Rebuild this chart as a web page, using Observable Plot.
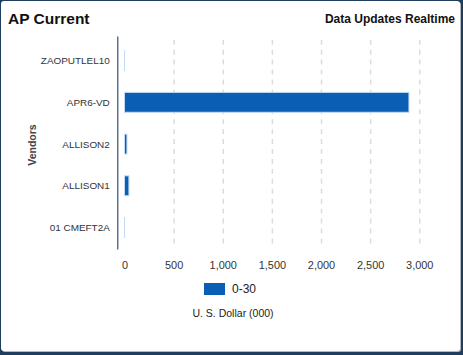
<!DOCTYPE html>
<html>
<head>
<meta charset="utf-8">
<script src="https://cdn.jsdelivr.net/npm/d3@7"></script>
<script src="https://cdn.jsdelivr.net/npm/@observablehq/plot@0.6"></script>
<style>
  html, body { margin: 0; padding: 0; }
  body { width: 463px; height: 355px; background: #1f3d5e; position: relative; overflow: hidden;
         font-family: "Liberation Sans", Arial, sans-serif; }
  #card { position: absolute; left: 1px; top: 1px; width: 459px; height: 350px; background: #fff;
          border-radius: 3px; box-shadow: 1px 1px 0 #b8b8b8; overflow: hidden; }
  #title { position: absolute; left: 7px; top: 9px; font-size: 15.5px; font-weight: bold; color: #111; }
  #sub { position: absolute; right: 5px; top: 11px; font-size: 12px; font-weight: bold; color: #111; }
  #chart { position: absolute; left: -1px; top: -1px; }
  #ylab { position: absolute; left: 31px; top: 144px; transform: translate(-50%, -50%) rotate(-90deg);
          font-size: 10.5px; font-weight: bold; color: #444; white-space: nowrap; }
  #legend { position: absolute; left: 203px; top: 281px; display: flex; align-items: center; font-size: 12px; color: #222; }
  #legend .sw { width: 21px; height: 12px; margin-right: 7px; }
  #xlab { position: absolute; left: 232px; top: 306px; transform: translateX(-50%); font-size: 10.5px; color: #222; white-space: nowrap; }
</style>
</head>
<body>
<div id="card">
  <div id="title">AP Current</div>
  <div id="sub">Data Updates Realtime</div>
  <div id="chart"></div>
  <div id="ylab">Vendors</div>
  <div id="legend"><div class="sw"></div><span id="legtext"></span></div>
  <div id="xlab">U. S. Dollar (000)</div>
</div>
<script>
// Data
const vendors = ["ZAOPUTLEL10", "APR6-VD", "ALLISON2", "ALLISON1", "01 CMEFT2A"];
const amounts = [1, 2895, 25, 45, 1];
const seriesName = "0-30";
const seriesColor = "#0a5fb4";
const xTicks = [0, 500, 1000, 1500, 2000, 2500, 3000];
const gridTicks = [500, 1000, 1500, 2000, 2500, 3000];

const rows = vendors.map((v, i) => ({vendor: v, amount: amounts[i]}));

document.querySelector("#legend .sw").style.background = seriesColor;
document.getElementById("legtext").textContent = seriesName;

const chart = Plot.plot({
  width: 463,
  height: 282,
  marginTop: 40,
  marginBottom: 32,
  marginLeft: 118,
  marginRight: 41,
  style: {fontFamily: "'Liberation Sans', Arial, sans-serif", fontSize: "11px", color: "#333", background: "transparent"},
  x: {domain: [0, 3000], insetLeft: 7.3},
  y: {domain: vendors, padding: 0},
  marks: [
    Plot.gridX(gridTicks, {stroke: "#dcdcdc", strokeOpacity: 1, strokeWidth: 1.5, strokeDasharray: "5,5"}),
    Plot.barX(rows, {y: "vendor", x: "amount", fill: seriesColor, stroke: "#c4dbf2", strokeWidth: 1, insetTop: 11, insetBottom: 11}),
    Plot.frame({anchor: "left", stroke: "#5d7190", strokeWidth: 1.5, insetTop: -3}),
    Plot.axisY({tickSize: 0, tickPadding: 8, label: null, fill: "#333", fontSize: 10}),
    Plot.axisX({ticks: xTicks, tickSize: 0, tickPadding: 12, label: null, tickFormat: d3.format(","), fill: "#333"})
  ]
});
document.getElementById("chart").appendChild(chart);
</script>
</body>
</html>
